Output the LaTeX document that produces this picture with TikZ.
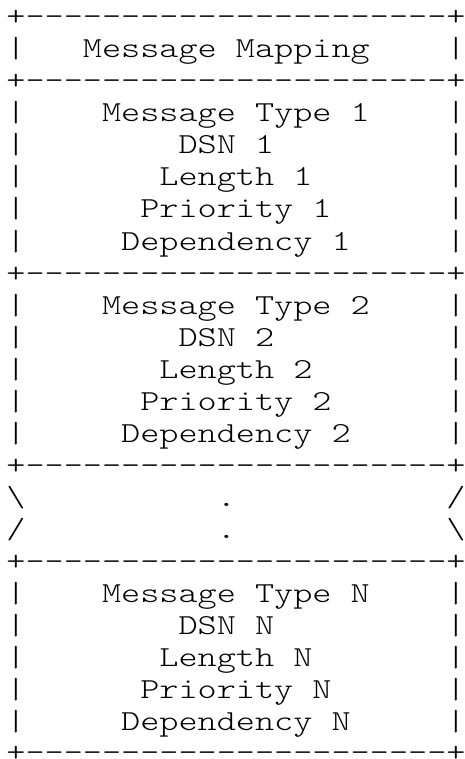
\documentclass[tikz,border=0pt]{standalone}
\usepackage{fontspec}
\newfontfamily\asciifont{Latin Modern Mono Light}[FakeStretch=1.2565]
\tikzset{
  asciirow/.style={anchor=base west, inner ysep=0pt, inner xsep=-2pt, outer sep=0pt,
    font=\asciifont\fontsize{29pt}{29pt}\selectfont, text=black},
  lastrow/.style={asciirow, inner ysep=-6pt},
}
\newcommand\bsl{\textbackslash}
\begin{document}
\begin{tikzpicture}[x=1pt,y=1pt]
\useasboundingbox (0,0) rectangle (465,-759);
\def\xo{8.4}
\def\border{+----------------------+}
\node[asciirow] (r0)  at (\xo,-26)  {\border};
\node[asciirow] (r1)  at (\xo,-58)  {|~~~Message~Mapping~~~~|};
\node[asciirow] (r2)  at (\xo,-90)  {\border};
\node[asciirow] (r3)  at (\xo,-122) {|~~~~Message~Type~1~~~~|};
\node[asciirow] (r4)  at (\xo,-154) {|~~~~~~~~DSN~1~~~~~~~~~|};
\node[asciirow] (r5)  at (\xo,-186) {|~~~~~~~Length~1~~~~~~~|};
\node[asciirow] (r6)  at (\xo,-218) {|~~~~~~Priority~1~~~~~~|};
\node[asciirow] (r7)  at (\xo,-250) {|~~~~~Dependency~1~~~~~|};
\node[asciirow] (r8)  at (\xo,-282) {\border};
\node[asciirow] (r9)  at (\xo,-314) {|~~~~Message~Type~2~~~~|};
\node[asciirow] (r10) at (\xo,-346) {|~~~~~~~~DSN~2~~~~~~~~~|};
\node[asciirow] (r11) at (\xo,-378) {|~~~~~~~Length~2~~~~~~~|};
\node[asciirow] (r12) at (\xo,-410) {|~~~~~~Priority~2~~~~~~|};
\node[asciirow] (r13) at (\xo,-442) {|~~~~~Dependency~2~~~~~|};
\node[asciirow] (r14) at (\xo,-474) {\border};
\node[asciirow] (r15) at (\xo,-506) {\bsl~~~~~~~~~~.~~~~~~~~~~~/};
\node[asciirow] (r16) at (\xo,-538) {/~~~~~~~~~~.~~~~~~~~~~~\bsl};
\node[asciirow] (r17) at (\xo,-570) {\border};
\node[asciirow] (r18) at (\xo,-602) {|~~~~Message~Type~N~~~~|};
\node[asciirow] (r19) at (\xo,-634) {|~~~~~~~~DSN~N~~~~~~~~~|};
\node[asciirow] (r20) at (\xo,-666) {|~~~~~~~Length~N~~~~~~~|};
\node[asciirow] (r21) at (\xo,-698) {|~~~~~~Priority~N~~~~~~|};
\node[asciirow] (r22) at (\xo,-730) {|~~~~~Dependency~N~~~~~|};
\node[lastrow]  (r23) at (\xo,-761) {\border};
\end{tikzpicture}
\end{document}
